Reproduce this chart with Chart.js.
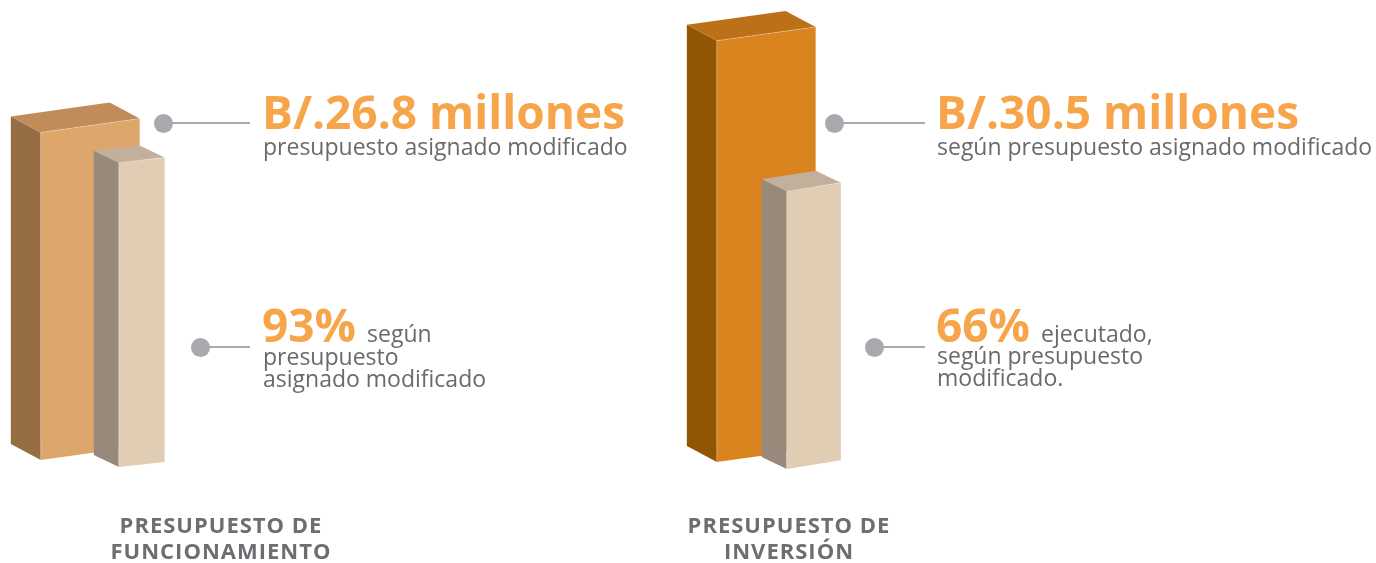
<!DOCTYPE html>
<html>
<head>
<meta charset="utf-8">
<script src="https://cdn.jsdelivr.net/npm/chart.js@4.4.1/dist/chart.umd.min.js"></script>
<style>
  body { margin: 0; background: #fff; }
  #page { position: relative; width: 1376px; height: 563px; overflow: hidden; font-family: 'Open Sans', sans-serif; }
  .box { position: absolute; top: 0; }
  .dot { position: absolute; width: 19px; height: 19px; border-radius: 50%; background: #a7a9ac; }
  .line { position: absolute; height: 2px; background: #a7a9ac; }
  .t { position: absolute; white-space: nowrap; line-height: 1; }
  .big { font-size: 46px; font-weight: 700; color: #f7a54a; }
  .small { font-size: 23px; font-weight: 400; color: #6a6a6d; }
  .cap { position: absolute; width: 340px; text-align: center; font-size: 22px; font-weight: 700;
         color: #6d6e71; line-height: 26px; letter-spacing: 1px; }
</style>
</head>
<body>
<div id="page">
  <div class="box" style="left:0px"><canvas id="chartFunc" width="260" height="563"></canvas></div>
  <div class="box" style="left:660px"><canvas id="chartInv" width="260" height="563"></canvas></div>

  <div class="dot" style="left:154px;top:114px"></div><div class="line" style="left:164px;top:122px;width:86px"></div>
  <div class="t big" style="left:262px;top:88px">B/.26.8 millones</div>
  <div class="t small" style="left:263px;top:134.5px">presupuesto asignado modificado</div>

  <div class="dot" style="left:191px;top:338px"></div><div class="line" style="left:200px;top:346px;width:50px"></div>
  <div class="t big" style="left:262px;top:301px">93%<span class="small" style="margin-left:11px">según</span></div>
  <div class="t small" style="left:263px;top:344.5px">presupuesto</div>
  <div class="t small" style="left:263px;top:367px">asignado modificado</div>

  <div class="dot" style="left:825px;top:114px"></div><div class="line" style="left:835px;top:122px;width:90px"></div>
  <div class="t big" style="left:936px;top:88px">B/.30.5 millones</div>
  <div class="t small" style="left:937px;top:134.5px">según presupuesto asignado modificado</div>

  <div class="dot" style="left:865px;top:338px"></div><div class="line" style="left:875px;top:346px;width:50px"></div>
  <div class="t big" style="left:936px;top:301px">66%<span class="small" style="margin-left:11px">ejecutado,</span></div>
  <div class="t small" style="left:937px;top:343.5px">según presupuesto</div>
  <div class="t small" style="left:937px;top:365.5px">modificado.</div>

  <div class="cap" style="left:51px;top:510.5px">PRESUPUESTO DE<br>FUNCIONAMIENTO</div>
  <div class="cap" style="left:619px;top:510.5px">PRESUPUESTO DE<br>INVERSIÓN</div>
</div>

<script>
// datos (millones de balboas)
var categorias = ["Presupuesto de Funcionamiento", "Presupuesto de Inversión"];
var asignado = [26.8, 30.5];   // presupuesto asignado modificado
var ejecutado = [24.9, 20.1];  // 93% y 66% ejecutado
var escalaMax = [36, 32];

// dibuja cada barra como un prisma (cara lateral, superior y frontal)
var bar3d = {
  id: 'bar3d',
  beforeDatasetsDraw: function(chart) {
    var ctx = chart.ctx;
    chart.data.datasets.forEach(function(ds, i) {
      var meta = chart.getDatasetMeta(i);
      meta.data.forEach(function(bar) {
        var w = bar.width;
        var left = bar.x - w / 2, right = bar.x + w / 2;
        var top = bar.y + ds.drop, bot = bar.base + ds.drop;
        var s = ds.skew * w, dx = ds.depthX, dy = ds.depthY;

        ctx.save();
        // lateral
        ctx.fillStyle = ds.sideColor;
        ctx.beginPath();
        ctx.moveTo(left - dx, top - dy);
        ctx.lineTo(left, top);
        ctx.lineTo(left, bot);
        ctx.lineTo(left - dx, bot - dy);
        ctx.closePath();
        ctx.fill();
        // superior
        ctx.fillStyle = ds.topColor;
        ctx.beginPath();
        ctx.moveTo(left - dx, top - dy);
        ctx.lineTo(left, top);
        ctx.lineTo(right, top - s);
        ctx.lineTo(right - dx, top - s - dy);
        ctx.closePath();
        ctx.fill();
        // frente
        ctx.fillStyle = ds.backgroundColor;
        ctx.beginPath();
        ctx.moveTo(left, top);
        ctx.lineTo(right, top - s);
        ctx.lineTo(right, bot - s);
        ctx.lineTo(left, bot);
        ctx.closePath();
        ctx.fill();
        // aristas claras
        ctx.strokeStyle = 'rgba(255,255,255,0.35)';
        ctx.lineWidth = 0.8;
        ctx.beginPath();
        ctx.moveTo(left, bot);
        ctx.lineTo(left, top);
        ctx.lineTo(right, top - s);
        ctx.stroke();
        ctx.restore();
      });
    });
    return false;
  }
};

function makeChart(id, idx, pad, bigColors, bigPct, smallPct, smallSkew) {
  return new Chart(document.getElementById(id), {
    type: 'bar',
    data: {
      labels: [categorias[idx]],
      datasets: [{
        label: 'Asignado',
        data: [asignado[idx]],
        backgroundColor: bigColors[0],
        sideColor: bigColors[1],
        topColor: bigColors[2],
        barPercentage: bigPct,
        categoryPercentage: 0.5,
        depthX: 30, depthY: 16, skew: 0.14, drop: 0
      }, {
        label: 'Ejecutado',
        data: [ejecutado[idx]],
        backgroundColor: '#e0cdb4',
        sideColor: '#978a7b',
        topColor: '#c3b09c',
        barPercentage: smallPct,
        categoryPercentage: 0.5,
        depthX: 25, depthY: 12, skew: smallSkew, drop: 7
      }]
    },
    options: {
      responsive: false,
      animation: false,
      layout: { padding: pad },
      plugins: { legend: { display: false }, tooltip: { enabled: false } },
      scales: {
        x: { display: false },
        y: { display: false, min: 0, max: escalaMax[idx] }
      }
    },
    plugins: [bar3d]
  });
}

makeChart('chartFunc', 0, { left: 13, right: 41, top: 20, bottom: 103 },
  ['#dda76c', '#976d43', '#bf8c5a'], 1.92, 0.89, 0.11);
makeChart('chartInv', 1, { left: 35, right: 35, top: 20, bottom: 101 },
  ['#d9841f', '#915603', '#bc7118'], 2.08, 1.14, 0.16);
</script>
</body>
</html>
